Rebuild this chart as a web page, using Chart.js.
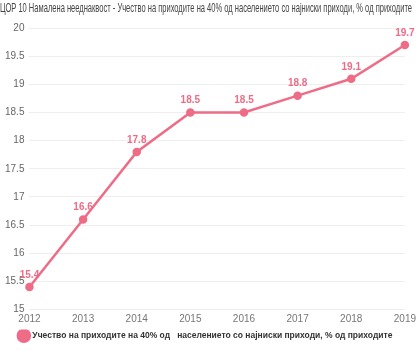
<!DOCTYPE html>
<html>
<head>
<meta charset="utf-8">
<script src="https://cdn.jsdelivr.net/npm/chart.js@4/dist/chart.umd.min.js"></script>
<style>
  html, body { margin: 0; padding: 0; background: #fff; }
  #wrap { width: 420px; height: 350px; }
</style>
</head>
<body>
<div id="wrap"><canvas id="chart"></canvas></div>
<script>
const years = ['2012', '2013', '2014', '2015', '2016', '2017', '2018', '2019'];
const share = [15.4, 16.6, 17.8, 18.5, 18.5, 18.8, 19.1, 19.7];
const seriesName = 'Учество на приходите на 40% од   населението со најниски приходи, % од приходите';
const titleText = 'ЦОР 10 Намалена нееднаквост - Учество на приходите на 40% од населението со најниски приходи, % од приходите';
const pink = 'rgb(238, 108, 133)';

// value labels above each point
const valueLabels = {
    id: 'valueLabels',
    afterDatasetsDraw(chart) {
        const ctx = chart.ctx;
        const meta = chart.getDatasetMeta(0);
        ctx.save();
        ctx.font = 'bold 10px "Liberation Sans", Arial, sans-serif';
        ctx.fillStyle = pink;
        ctx.textAlign = 'center';
        ctx.textBaseline = 'bottom';
        meta.data.forEach(function(pt, i) {
            ctx.fillText(share[i].toFixed(1), pt.x, pt.y - 7);
        });
        ctx.restore();
    }
};

const ctx = document.getElementById('chart').getContext('2d');
new Chart(ctx, {
    type: 'line',
    data: {
        labels: years,
        datasets: [{
            label: seriesName,
            data: share,
            borderColor: pink,
            backgroundColor: pink,
            borderWidth: 2.5,
            pointRadius: 3,
            pointBackgroundColor: pink,
            tension: 0
        }]
    },
    options: {
        responsive: true,
        maintainAspectRatio: false,
        animation: false,
        layout: { padding: { left: 0, right: 8, top: 0, bottom: 0 } },
        plugins: {
            title: {
                display: true,
                text: titleText,
                font: { family: '"Liberation Sans Narrow", "Liberation Sans", sans-serif', size: 12.6, weight: 'normal' },
                color: '#444',
                padding: { top: 1, bottom: 12 }
            },
            legend: {
                position: 'bottom',
                labels: {
                    usePointStyle: true,
                    pointStyle: 'circle',
                    boxWidth: 12,
                    boxHeight: 12,
                    padding: 2,
                    color: '#333',
                    font: { family: '"Liberation Sans", Arial, sans-serif', size: 8.5, weight: 'bold' }
                }
            },
            tooltip: { enabled: false }
        },
        scales: {
            x: {
                offset: false,
                grid: { display: false, drawTicks: false },
                border: { display: false },
                ticks: { color: '#777', padding: 4, font: { size: 10, family: '"Liberation Sans", Arial, sans-serif' }, maxRotation: 0 }
            },
            y: {
                min: 15,
                max: 20,
                ticks: {
                    stepSize: 0.5,
                    color: '#666',
                    padding: 5,
                    font: { size: 10, family: '"Liberation Sans", Arial, sans-serif' },
                    callback: function(value) { return String(value); }
                },
                grid: { color: '#eee', drawTicks: false },
                border: { display: false }
            }
        }
    },
    plugins: [valueLabels]
});
</script>
</body>
</html>
